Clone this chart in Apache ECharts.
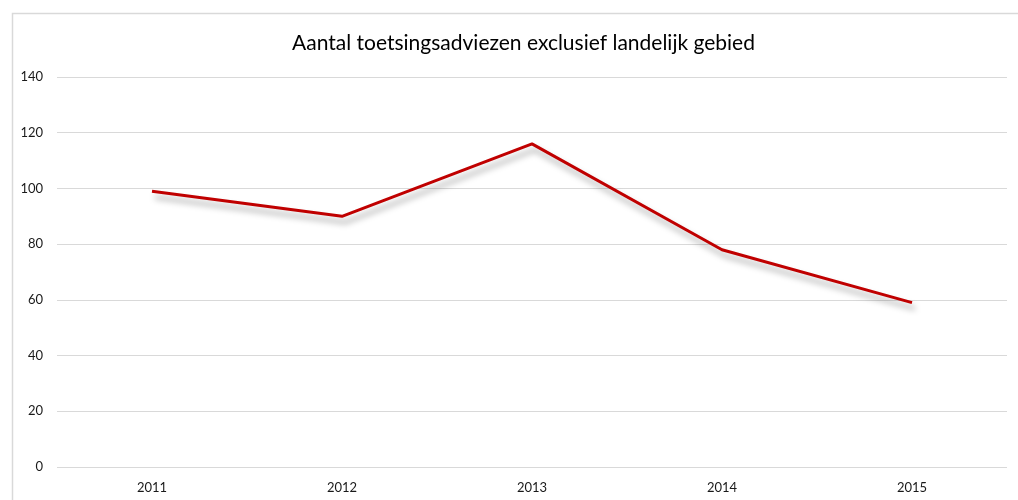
<!DOCTYPE html>
<html><head><meta charset="utf-8">
<script src="https://cdn.jsdelivr.net/npm/echarts@6/dist/echarts.min.js"></script>
<style>html,body{margin:0;padding:0;background:#fff}#c{width:1018px;height:500px}</style>
</head><body><div id="c"></div>
<script>
const titleText = 'Aantal toetsingsadviezen exclusief landelijk gebied';
const categories = ['2011', '2012', '2013', '2014', '2015'];
const values = [99, 90, 116, 78, 59];
const yTicks = { min: 0, max: 140, interval: 20 };

const chart = echarts.init(document.getElementById('c'));
chart.setOption({
  animation: false,
  backgroundColor: '#fff',
  graphic: [{
    type: 'rect', left: 10, top: 11,
    shape: { width: 1030, height: 520 },
    style: { fill: 'none', stroke: '#d9d9d9', lineWidth: 1.5 },
    silent: true, z: -1
  }],
  title: {
    text: titleText, left: 287, top: 28,
    textStyle: { fontFamily: 'Lato, "Open Sans", sans-serif', fontSize: 21, fontWeight: 'normal', color: '#000' }
  },
  grid: { left: 57, right: 11, top: 77, bottom: 33, containLabel: false },
  xAxis: {
    type: 'category', data: categories, boundaryGap: true,
    axisLine: { show: false }, axisTick: { show: false },
    axisLabel: { margin: 14, fontFamily: 'Lato, "Open Sans", sans-serif', fontSize: 13, color: '#1a1a1a' }
  },
  yAxis: {
    type: 'value', min: yTicks.min, max: yTicks.max, interval: yTicks.interval,
    axisLine: { show: false }, axisTick: { show: false },
    splitLine: { lineStyle: { color: '#d9d9d9', width: 1.2 } },
    axisLabel: { margin: 14, fontFamily: 'Lato, "Open Sans", sans-serif', fontSize: 13, color: '#1a1a1a' }
  },
  series: [{
    type: 'line', data: values, symbol: 'none',
    lineStyle: {
      color: '#c00000', width: 3,
      shadowColor: 'rgba(0,0,0,0.35)', shadowBlur: 6, shadowOffsetX: 3, shadowOffsetY: 6
    }
  }]
});
</script></body></html>
